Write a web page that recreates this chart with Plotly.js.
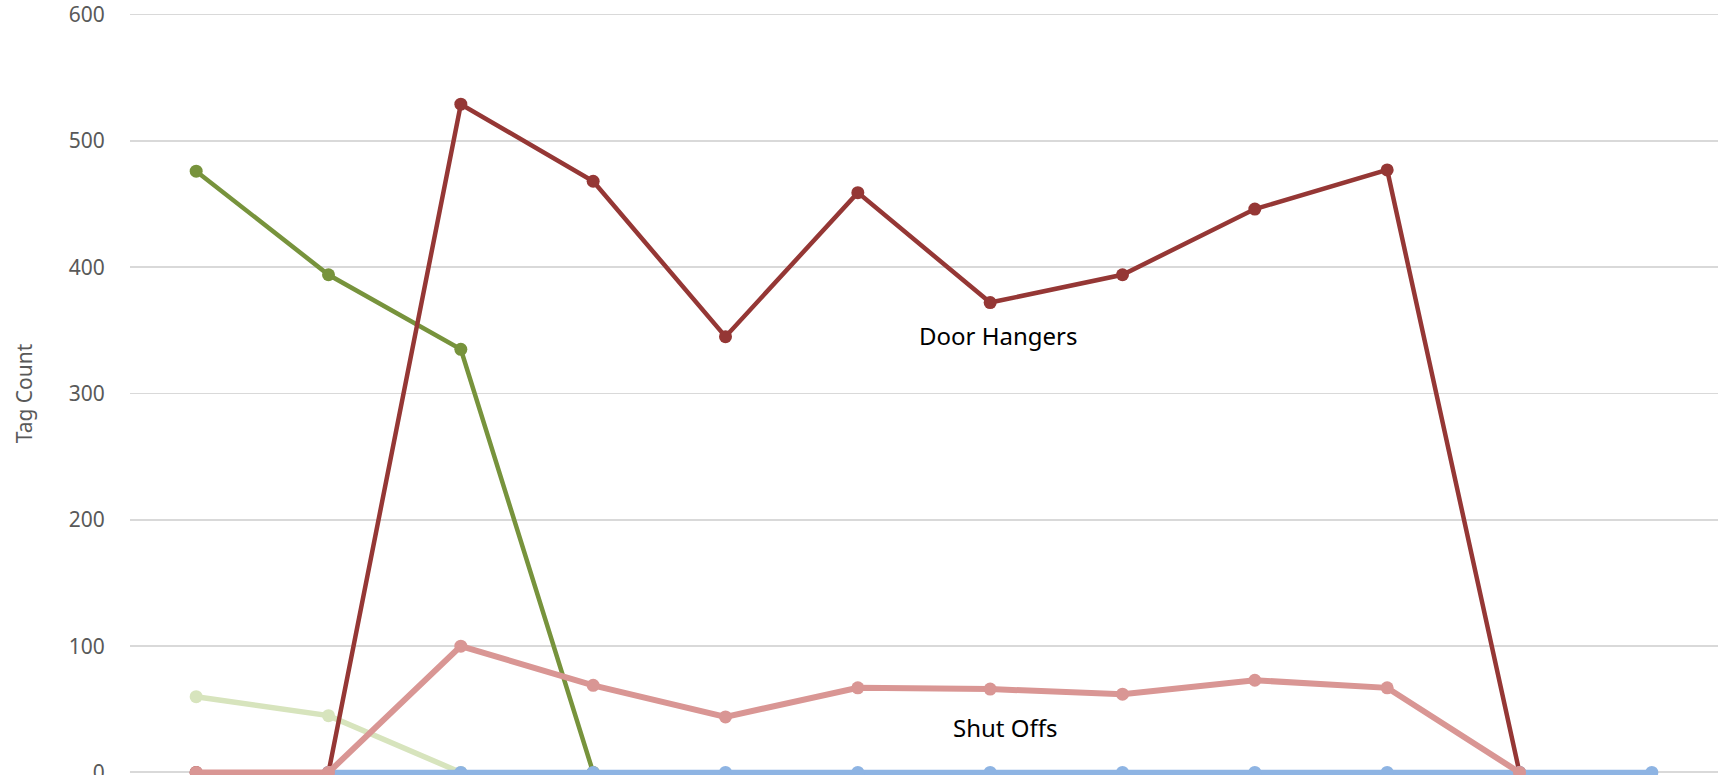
<!DOCTYPE html>
<html>
<head>
<meta charset="utf-8">
<script src="https://cdn.plot.ly/plotly-3.0.1.min.js"></script>
<style>html,body{margin:0;padding:0;background:#fff;}#chart{width:1733px;height:775px;}</style>
</head>
<body>
<div id="chart"></div>
<script>
const categories = ['1','2','3','4','5','6','7','8','9','10','11','12'];
const seriesOlive = [476, 394, 335, 0, null, null, null, null, null, null, null, null];
const seriesPaleGreen = [60, 45, 0, null, null, null, null, null, null, null, null, null];
const doorHangers = [0, 0, 529, 468, 345, 459, 372, 394, 446, 477, 0, null];
const seriesBlue = [null, 0, 0, 0, 0, 0, 0, 0, 0, 0, 0, 0];
const shutOffs = [0, 0, 100, 69, 44, 67, 66, 62, 73, 67, 0, null];
const yTicks = [0, 100, 200, 300, 400, 500, 600];

function tr(name, y, color, width, msize) {
  return {
    type: 'scatter', mode: 'lines+markers', name: name,
    x: categories, y: y,
    line: {color: color, width: width},
    marker: {color: color, size: msize},
    connectgaps: false, hoverinfo: 'x+y',
    cliponaxis: false
  };
}

const data = [
  tr('Series A', seriesOlive, '#77933C', 4.5, 13),
  tr('Series B', seriesPaleGreen, '#D7E4BD', 5.5, 13),
  tr('Door Hangers', doorHangers, '#953735', 4.5, 13),
  tr('Series C', seriesBlue, '#8EB4E3', 5.5, 13),
  tr('Shut Offs', shutOffs, '#D99694', 6, 13)
];

const layout = {
  width: 1733, height: 775,
  margin: {l: 130, r: 15, t: 12, b: 0, pad: 0},
  paper_bgcolor: '#ffffff', plot_bgcolor: '#ffffff',
  showlegend: false,
  font: {family: 'Noto Sans, sans-serif', color: '#595959'},
  xaxis: {
    type: 'category', range: [-0.5, 11.5],
    showticklabels: false, showgrid: false, zeroline: false,
    showline: false, ticks: ''
  },
  yaxis: {
    range: [-2, 602], tickvals: yTicks, ticktext: yTicks.map(String),
    showgrid: true, gridcolor: '#D9D9D9', gridwidth: 1.5,
    zeroline: true, zerolinecolor: '#D9D9D9', zerolinewidth: 2,
    showline: false, ticklabeloverflow: 'allow',
    ticks: 'outside', ticklen: 20, tickcolor: 'rgba(0,0,0,0)',
    tickfont: {size: 21, color: '#595959', family: 'Noto Sans, sans-serif'},
    title: {text: 'Tag Count', font: {size: 21, color: '#595959', family: 'Noto Sans, sans-serif'}, standoff: 30}
  },
  annotations: [
    {xref: 'paper', yref: 'paper', x: (998 - 130) / (1718 - 130), y: (775 - 336) / 763,
     text: 'Door Hangers', showarrow: false, xanchor: 'center', yanchor: 'middle',
     font: {size: 24, color: '#000000', family: 'Noto Sans, sans-serif'}},
    {xref: 'paper', yref: 'paper', x: (1006 - 130) / (1718 - 130), y: (775 - 727) / 763,
     text: 'Shut Offs', showarrow: false, xanchor: 'center', yanchor: 'middle',
     font: {size: 24, color: '#000000', family: 'Noto Sans, sans-serif'}}
  ]
};

Plotly.newPlot('chart', data, layout, {displayModeBar: false, staticPlot: true});
</script>
</body>
</html>
